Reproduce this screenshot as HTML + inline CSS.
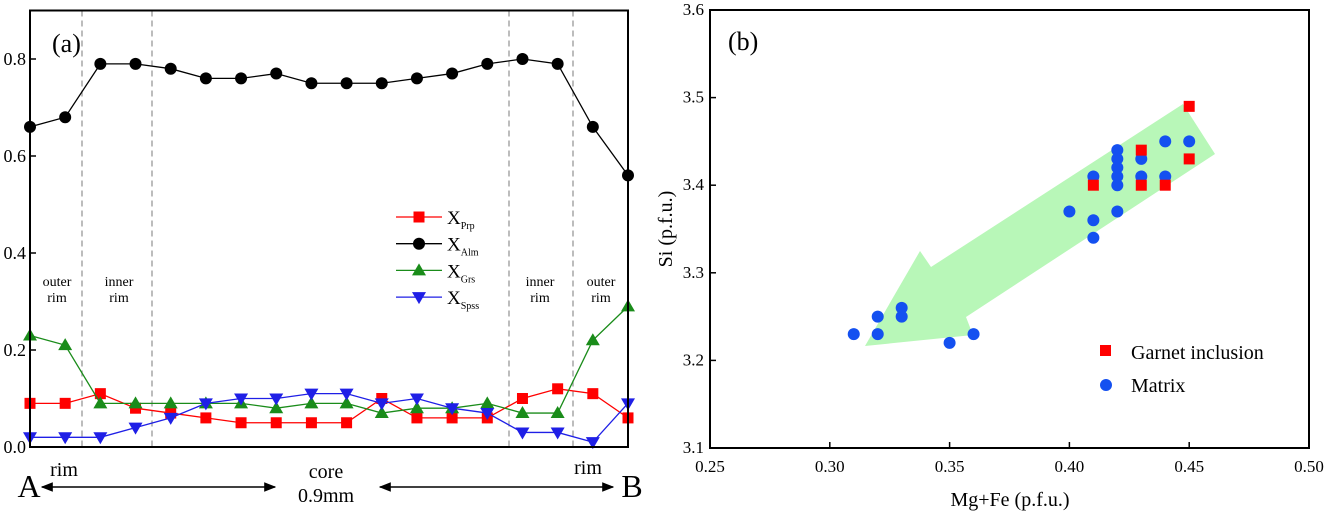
<!DOCTYPE html>
<html><head><meta charset="utf-8"><style>
body{margin:0;background:#fff}
svg{display:block;font-family:"Liberation Serif",serif}
</style></head><body>
<svg id="s" width="1327" height="516" viewBox="0 0 1327 516">
<defs><marker id="ah" viewBox="0 0 10 10" refX="9" refY="5" markerWidth="8" markerHeight="8" orient="auto-start-reverse"><path d="M0,1 L10,5 L0,9 z" fill="#000"/></marker></defs>
<g id="ga"></g>
<g id="gb"></g>
</svg>
<script>
const prp=[0.09,0.09,0.11,0.08,0.07,0.06,0.05,0.05,0.05,0.05,0.10,0.06,0.06,0.06,0.10,0.12,0.11,0.06];
const alm=[0.66,0.68,0.79,0.79,0.78,0.76,0.76,0.77,0.75,0.75,0.75,0.76,0.77,0.79,0.80,0.79,0.66,0.56];
const grs=[0.23,0.21,0.09,0.09,0.09,0.09,0.09,0.08,0.09,0.09,0.07,0.08,0.08,0.09,0.07,0.07,0.22,0.29];
const sps=[0.02,0.02,0.02,0.04,0.06,0.09,0.10,0.10,0.11,0.11,0.09,0.10,0.08,0.07,0.03,0.03,0.01,0.09];
const aTicks=["0.0","0.2","0.4","0.6","0.8"];
const matX=[0.31,0.32,0.32,0.33,0.33,0.35,0.36,0.40,0.41,0.41,0.41,0.42,0.42,0.42,0.42,0.42,0.42,0.43,0.43,0.44,0.44,0.45];
const matY=[3.23,3.25,3.23,3.26,3.25,3.22,3.23,3.37,3.41,3.36,3.34,3.44,3.43,3.42,3.41,3.40,3.37,3.43,3.41,3.45,3.41,3.45];
const incX=[0.41,0.43,0.43,0.44,0.45,0.45];
const incY=[3.40,3.44,3.40,3.40,3.49,3.43];
const bxTicks=["0.25","0.30","0.35","0.40","0.45","0.50"];
const byTicks=["3.1","3.2","3.3","3.4","3.5","3.6"];
const NS="http://www.w3.org/2000/svg";
function mk(p,t,a,txt){const e=document.createElementNS(NS,t);for(const k in a)e.setAttribute(k,a[k]);if(txt!==undefined)e.textContent=txt;p.appendChild(e);return e;}
const ga=document.getElementById('ga'),gb=document.getElementById('gb');
// Panel A
const L=30,R=628,T=10.5,B=447;
const ax=i=>L+i*(R-L)/(alm.length-1), ay=v=>B-v/0.9*(B-T);
let e;
[82,152,509,573].forEach(x=>{e=mk(ga,'line',{x1:x,x2:x,y1:T,y2:B,stroke:'#999','stroke-dasharray':'6,4','stroke-width':1.3});
});
aTicks.forEach(t=>{const y=ay(+t);e=mk(ga,'line',{x1:L,x2:L+6,y1:y,y2:y,stroke:'#000','stroke-width':1.5});

e=mk(ga,'text',{x:L-4,y:y+6,'text-anchor':'end','font-size':18},t);
});
function series(arr,col,shape,name){
 const g=mk(ga,'g',{});
 mk(g,'polyline',{points:arr.map((v,i)=>ax(i)+','+ay(v)).join(' '),fill:'none',stroke:col,'stroke-width':1.3});
 arr.forEach((v,i)=>{e=marker(g,ax(i),ay(v),col,shape);});
}
function marker(g,x,y,col,shape){
 if(shape==='s')return mk(g,'rect',{x:x-5.5,y:y-5.5,width:11,height:11,fill:col});
 if(shape==='c')return mk(g,'circle',{cx:x,cy:y,r:6,fill:col});
 if(shape==='u')return mk(g,'path',{d:`M${x},${y-7}L${x+7},${y+5}L${x-7},${y+5}z`,fill:col});
 return mk(g,'path',{d:`M${x},${y+7}L${x+7},${y-5}L${x-7},${y-5}z`,fill:col});
}
series(prp,'#f00','s','series-prp');series(alm,'#000','c','series-alm');series(grs,'#1a8c1a','u','series-grs');series(sps,'#1f1fe6','d','series-sps');
e=mk(ga,'rect',{x:L,y:T,width:R-L,height:B-T,fill:'none',stroke:'#000','stroke-width':2});

const leg=[['#f00','s','Prp'],['#000','c','Alm'],['#1a8c1a','u','Grs'],['#1f1fe6','d','Spss']];
leg.forEach((l,i)=>{const y=217+i*26.7;const g=mk(ga,'g',{});
 mk(g,'line',{x1:396,x2:442,y1:y,y2:y,stroke:l[0],'stroke-width':1.3});marker(g,419,y,l[0],l[1]);
 const t=mk(g,'text',{x:447,y:y+7,'font-size':19},'X');mk(t,'tspan',{dy:5,'font-size':10},l[2]);});
e=mk(ga,'text',{x:52,y:52,'font-size':26},'(a)');
[[57,'outer'],[119,'inner'],[540,'inner'],[601,'outer']].forEach(a=>{const g=mk(ga,'g',{'font-size':14,'text-anchor':'middle'});
 
 mk(g,'text',{x:a[0],y:286},a[1]);mk(g,'text',{x:a[0],y:302},'rim');});
[[64,476,'rim',20],[326,478,'core',20],[326,502,'0.9mm',20],[588,474,'rim',20],[29,497,'A',32],[632,497,'B',32]].forEach(a=>{
 e=mk(ga,'text',{x:a[0],y:a[1],'font-size':a[3],'text-anchor':'middle'},a[2]);});
e=mk(ga,'line',{x1:42,x2:275,y1:487,y2:487,stroke:'#000','stroke-width':1.5,'marker-start':'url(#ah)','marker-end':'url(#ah)'});

e=mk(ga,'line',{x1:380,x2:613,y1:487,y2:487,stroke:'#000','stroke-width':1.5,'marker-start':'url(#ah)','marker-end':'url(#ah)'});

// Panel B
const bL=710,bR=1309,bT=10,bB=448;
const bx=v=>bL+(v-0.25)/0.25*(bR-bL), by=v=>bB-(v-3.1)/0.5*(bB-bT);
e=mk(gb,'polygon',{points:'865,346 920,251 931,267 1183,104 1215,154 966,317 973,335',fill:'#b8f7b8'});

bxTicks.forEach(t=>{const x=bx(+t);e=mk(gb,'line',{x1:x,x2:x,y1:bB,y2:bB-6,stroke:'#000','stroke-width':1.5});

e=mk(gb,'text',{x:x,y:bB+24,'text-anchor':'middle','font-size':17},t);});
byTicks.forEach(t=>{const y=by(+t);e=mk(gb,'line',{x1:bL,x2:bL+6,y1:y,y2:y,stroke:'#000','stroke-width':1.5});

e=mk(gb,'text',{x:bL-6,y:y+5,'text-anchor':'end','font-size':17},t);});
matX.forEach((v,i)=>{e=mk(gb,'circle',{cx:bx(v),cy:by(matY[i]),r:6,fill:'#1450f0'});});
incX.forEach((v,i)=>{e=mk(gb,'rect',{x:bx(v)-5.5,y:by(incY[i])-5.5,width:11,height:11,fill:'#f00'});});
e=mk(gb,'rect',{x:bL,y:bT,width:bR-bL,height:bB-bT,fill:'none',stroke:'#000','stroke-width':2});

e=mk(gb,'text',{x:728,y:50,'font-size':26},'(b)');
e=mk(gb,'rect',{x:1100,y:345,width:11,height:11,fill:'#f00'});
e=mk(gb,'text',{x:1131,y:359,'font-size':20},'Garnet inclusion');
e=mk(gb,'circle',{cx:1106,cy:385,r:6,fill:'#1450f0'});
e=mk(gb,'text',{x:1131,y:392,'font-size':20},'Matrix');
e=mk(gb,'text',{x:1010,y:506,'text-anchor':'middle','font-size':20},'Mg+Fe (p.f.u.)');
e=mk(gb,'text',{x:0,y:0,'text-anchor':'middle','font-size':20,transform:'translate(672,229) rotate(-90)'},'Si (p.f.u.)');
</script>
</body></html>
